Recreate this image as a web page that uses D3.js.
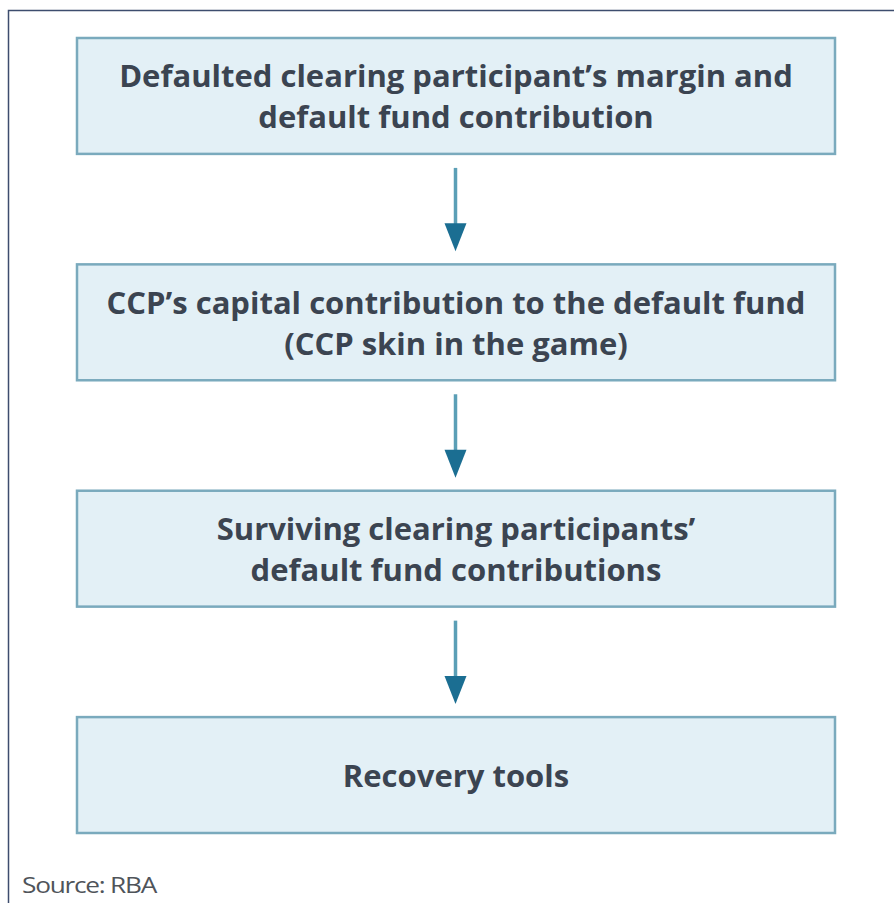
<!DOCTYPE html>
<html>
<head>
<meta charset="utf-8">
<script src="https://cdn.jsdelivr.net/npm/d3@7"></script>
<style>
  html, body { margin: 0; padding: 0; background: #fff; }
  #flow { width: 894px; height: 903px; }
  .step-text { font-family: "Open Sans", sans-serif; font-weight: 700; font-size: 31px; fill: #3b4451; }
  .source { font-family: "Open Sans", sans-serif; font-size: 21px; letter-spacing: -1px; fill: #4f545a; }
</style>
</head>
<body>
<div id="flow"></div>
<script>
// Steps of the default waterfall, top to bottom
const stepIds = ['s1', 's2', 's3', 's4'];
const stepLines = [
    ['Defaulted clearing participant\u2019s margin and', 'default fund contribution'],
    ['CCP\u2019s capital contribution to the default fund', '(CCP skin in the game)'],
    ['Surviving clearing participants\u2019', 'default fund contributions'],
    ['Recovery tools']
];
const sourceNote = 'Source: RBA';

document.addEventListener('DOMContentLoaded', () => {
    const width = 894, height = 903;

    const svg = d3.select('#flow')
        .append('svg')
        .attr('width', width)
        .attr('height', height);

    // outer frame (only top and left edges show)
    svg.append('path')
        .attr('d', `M8.5,${height} V10.5 H${width}`)
        .attr('fill', 'none')
        .attr('stroke', '#3d4d6e')
        .attr('stroke-width', 1.5);

    // scales
    const yScale = d3.scaleBand()
        .domain(stepIds)
        .range([38, 833])
        .paddingInner(0.488);

    const xScale = d3.scaleLinear()
        .domain([0, 1])
        .range([77, 835]);

    const steps = stepIds.map((id, i) => ({ id, lines: stepLines[i] }));

    const box = svg.selectAll('g.step')
        .data(steps)
        .enter()
        .append('g')
        .attr('class', 'step');

    box.append('rect')
        .attr('x', xScale(0))
        .attr('y', d => yScale(d.id))
        .attr('width', xScale(1) - xScale(0))
        .attr('height', yScale.bandwidth())
        .attr('fill', '#e3f0f6')
        .attr('stroke', '#7aaabd')
        .attr('stroke-width', 2.5);

    const lineGap = 41;
    box.append('text')
        .attr('class', 'step-text')
        .attr('text-anchor', 'middle')
        .selectAll('tspan')
        .data(d => d.lines.map((t, j) => ({ t, j, n: d.lines.length, id: d.id })))
        .enter()
        .append('tspan')
        .attr('x', xScale(0.5))
        .attr('y', d => {
            const mid = yScale(d.id) + yScale.bandwidth() / 2;
            return mid + 12 + (d.j - (d.n - 1) / 2) * lineGap;
        })
        .text(d => d.t);

    // arrows between consecutive boxes
    const links = d3.pairs(stepIds);
    const ax = xScale(0.5) - 0.5;
    const arrows = svg.selectAll('g.arrow')
        .data(links)
        .enter()
        .append('g')
        .attr('class', 'arrow');

    arrows.append('line')
        .attr('x1', ax)
        .attr('x2', ax)
        .attr('y1', d => yScale(d[0]) + yScale.bandwidth() + 14)
        .attr('y2', d => yScale(d[1]) - 38)
        .attr('stroke', '#5b9fb6')
        .attr('stroke-width', 3.5);

    arrows.append('path')
        .attr('d', d => {
            const tip = yScale(d[1]) - 13;
            return `M${ax - 11},${tip - 28} L${ax + 11},${tip - 28} L${ax},${tip} Z`;
        })
        .attr('fill', '#1b6e92');

    svg.append('text')
        .attr('class', 'source')
        .attr('x', 22)
        .attr('y', 893)
        .attr('textLength', 134)
        .attr('lengthAdjust', 'spacingAndGlyphs')
        .text(sourceNote);
});
</script>
</body>
</html>
